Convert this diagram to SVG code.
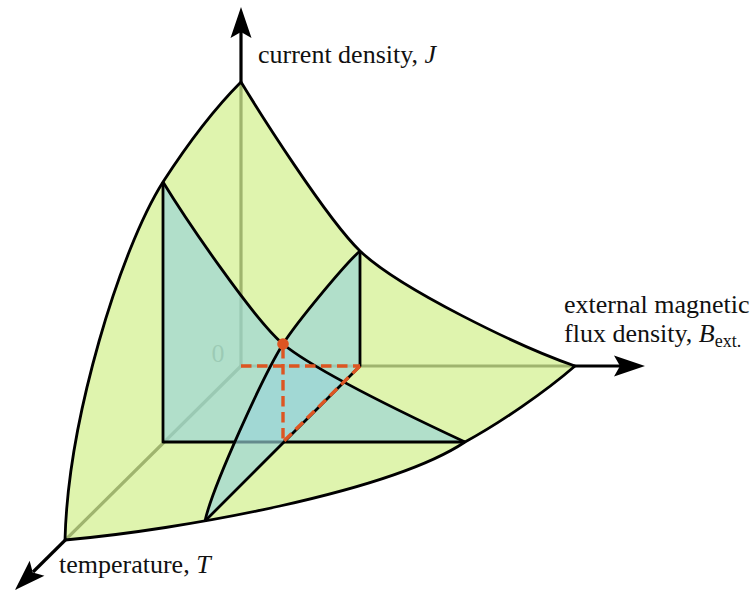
<svg xmlns="http://www.w3.org/2000/svg" xmlns:xlink="http://www.w3.org/1999/xlink" width="756" height="592" viewBox="0 0 756 592">
<style>
.ax{stroke:#000;stroke-width:3.2;fill:none}
.edge{stroke:#000;stroke-width:2.8;fill:none;stroke-linejoin:round}
.surf{fill:#d4f093;fill-opacity:0.75}
.plane{fill:#98d4d9;fill-opacity:0.65;stroke:none}
.dash{stroke:#dd5522;stroke-width:3.4;fill:none;stroke-dasharray:10.5 5.5}
.lbl{font-family:"Liberation Serif","Times New Roman",serif;font-size:26px;fill:#111}
</style>
<defs>
<path id="ah" d="M0,0 L-31,-10.5 L-25,0 L-31,10.5 Z" fill="#000"/>
</defs>
<g id="axes">
<line class="ax" x1="241" y1="366" x2="241" y2="30"/>
<line class="ax" x1="241" y1="366" x2="622" y2="366"/>
<line class="ax" x1="241" y1="366" x2="33" y2="572"/>
<use xlink:href="#ah" transform="translate(241,7) rotate(-90)"/>
<use xlink:href="#ah" transform="translate(645,366)"/>
<use xlink:href="#ah" transform="translate(15,590) rotate(135.3)"/>
<text class="lbl" x="218" y="362" text-anchor="middle" fill="#000">0</text>
</g>
<g id="surface">
<path class="surf" d="M241,82 C258,110 326,218 360,251 C400,289 520,347 575,366 C545,392 500,423 465,442 C390,492 180,530 65,540 C68,420 120,250 163,182 C185,148 215,108 241,82 Z"/>
<path class="edge" d="M241,82 C258,110 326,218 360,251 C400,289 520,347 575,366 C545,392 500,423 465,442 C390,492 180,530 65,540 C68,420 120,250 163,182 C185,148 215,108 241,82 Z"/>
</g>
<g id="plane-temperature">
<path class="plane" d="M163,182 C185,218 253,318.5 283,344 C313,369 405,414 465,442 L163,442 Z"/>
<path class="edge" d="M163,182 V442 H465"/>
</g>
<g id="plane-field">
<path class="plane" d="M360,251 C345,264 297,322 283,344 C263,376 212,488 205,521 L360,366 Z"/>
<path class="edge" d="M360,251 C345,264 297,322 283,344 C263,376 212,488 205,521"/>
<path class="edge" d="M360,251 V366 L205,521"/>
</g>
<g id="plane-temperature-curve">
<path class="edge" d="M163,182 C185,218 253,318.5 283,344 C313,369 405,414 465,442"/>
</g>
<g id="connectors">
<path class="dash" d="M241,366 H360"/>
<path class="dash" d="M283,348 V442"/>
<path class="dash" d="M360,366 L283,442"/>
</g>
<g id="critical-point">
<circle cx="283" cy="344" r="5.8" fill="#dd5522"/>
</g>
<g id="labels">
<text class="lbl" x="258" y="63">current density, <tspan font-style="italic">J</tspan></text>
<text class="lbl" x="564" y="313">external magnetic</text>
<text class="lbl" x="564" y="342">flux density, <tspan font-style="italic">B</tspan><tspan font-size="18" dy="5">ext.</tspan></text>
<text class="lbl" x="59" y="573">temperature, <tspan font-style="italic">T</tspan></text>
</g>
</svg>
